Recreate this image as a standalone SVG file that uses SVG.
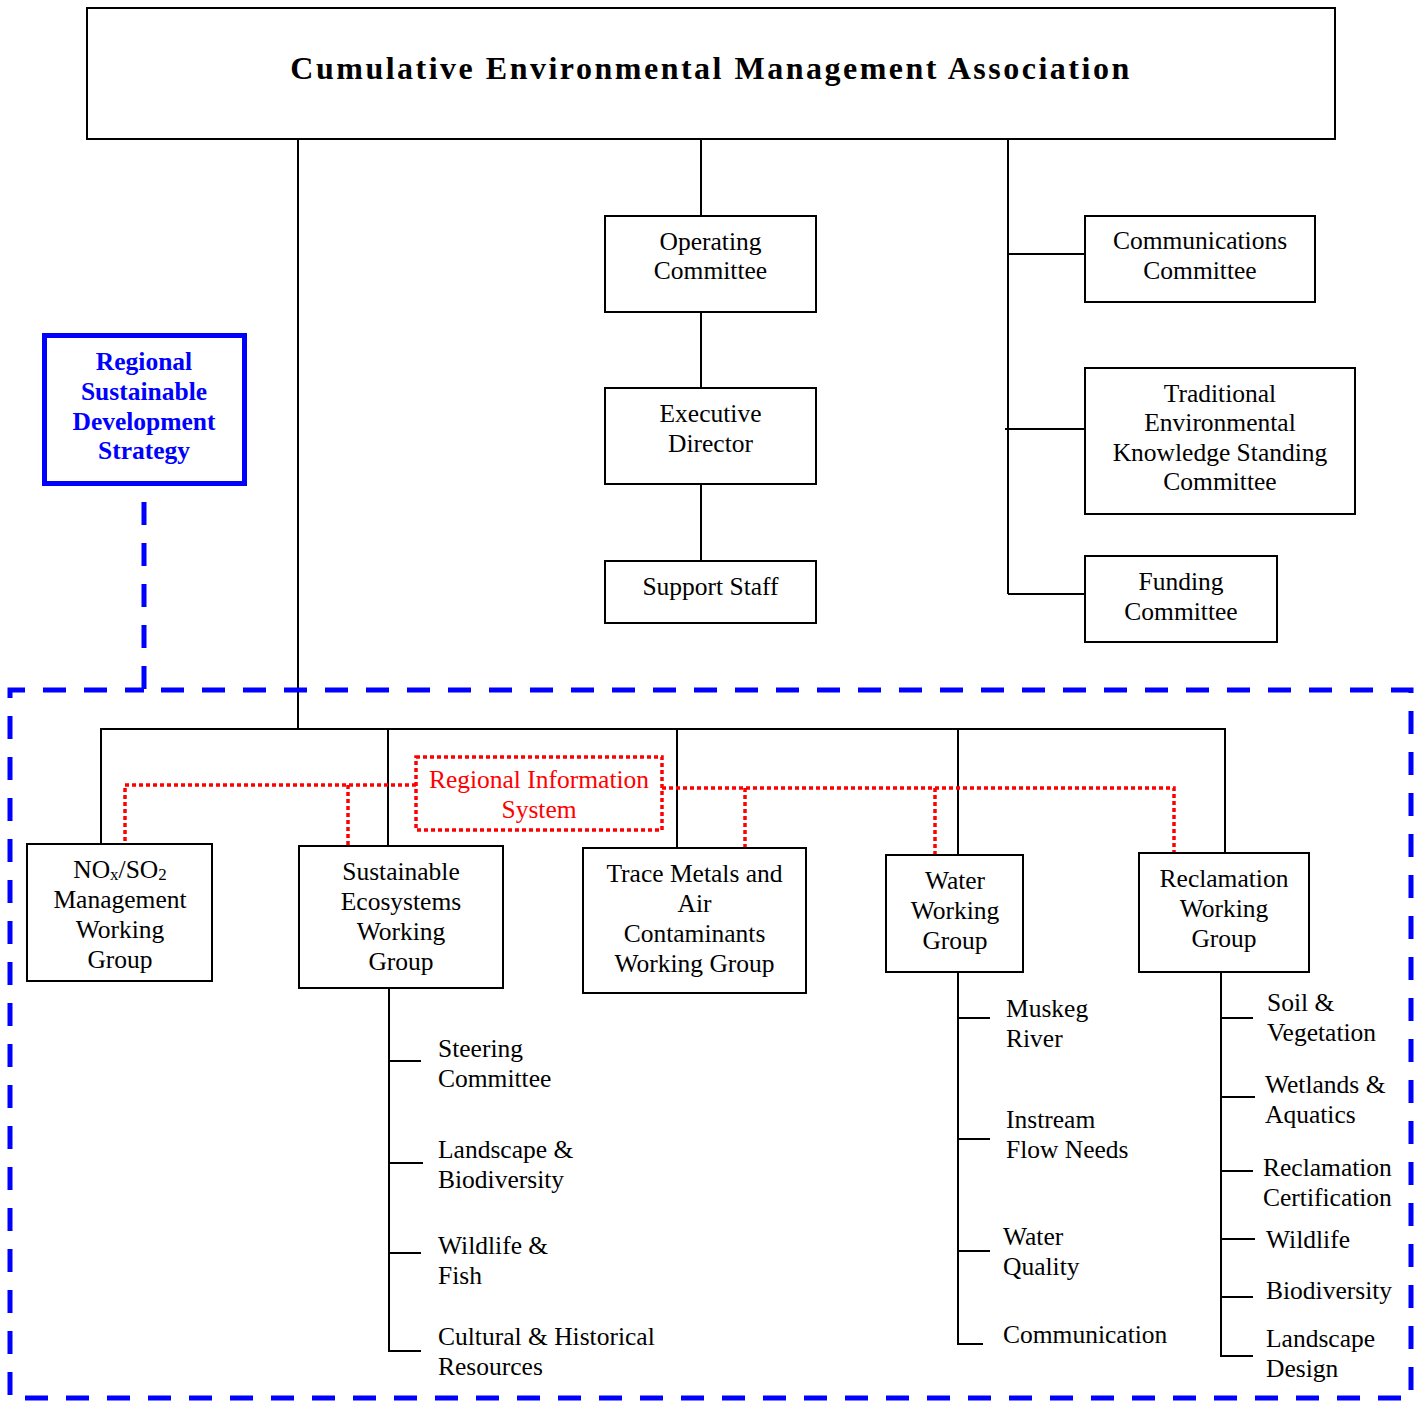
<svg xmlns="http://www.w3.org/2000/svg" width="1421" height="1401" viewBox="0 0 1421 1401">
<style>
  text { font-family: "Liberation Serif", "Times New Roman", serif; font-size: 25.5px; fill: #000; }
  .c { text-anchor: middle; }
  .title { font-size: 32px; font-weight: bold; letter-spacing: 2.5px; }
  .box { fill: #fff; stroke: #000; stroke-width: 2; }
  .ln { fill: none; stroke: #000; stroke-width: 2; }
  .blue { fill: none; stroke: #0000ff; stroke-width: 5; }
  .bdash { fill: none; stroke: #0000ff; stroke-width: 5; stroke-dasharray: 23 18; }
  .rdot { fill: none; stroke: #ff0000; stroke-width: 3.5; stroke-dasharray: 4 3; }
  .btxt { fill: #0000ff; font-weight: bold; }
  .rtxt { fill: #ff0000; }
  .sub { font-size: 17px; }
</style>

<g id="connectors">
  <path class="ln" d="M298,139 V729"/>
  <path class="ln" d="M701,139 V216 M701,312 V388 M701,484 V561"/>
  <path class="ln" d="M1008,139 V594 M1008,254 H1085 M1005,429 H1086 M1008,594 H1085"/>
  <path class="ln" d="M101,844 V729 H1225 V853 M388,729 V846 M677,729 V848 M958,729 V855"/>
  <path class="ln" d="M389,988 V1351 H421 M389,1061 H421 M389,1163 H423 M389,1253 H421"/>
  <path class="ln" d="M958,973 V1344 H983 M958,1018 H990 M958,1139 H990 M958,1251 H990"/>
  <path class="ln" d="M1221,973 V1356 H1253 M1221,1018 H1253 M1221,1097 H1255 M1221,1171 H1253 M1221,1239 H1255 M1221,1297 H1253"/>
  <path class="bdash" d="M144,502 V690 H1411 V1398 H10 V690 H144"/>
  <path class="rdot" d="M416,785 H125 V844 M348,785 V846"/>
  <path class="rdot" d="M662,788 H1174 V853 M745,788 V848 M935,788 V855"/>
</g>

<g id="cema">
  <rect class="box" x="87" y="8" width="1248" height="131"/>
  <text class="c title" x="711" y="79">Cumulative Environmental Management Association</text>
</g>

<g id="operating-committee">
  <rect class="box" x="605" y="216" width="211" height="96"/>
  <text class="c" x="710.5" y="250">Operating</text>
  <text class="c" x="710.5" y="279">Committee</text>
</g>

<g id="executive-director">
  <rect class="box" x="605" y="388" width="211" height="96"/>
  <text class="c" x="710.5" y="422">Executive</text>
  <text class="c" x="710.5" y="452">Director</text>
</g>

<g id="support-staff">
  <rect class="box" x="605" y="561" width="211" height="62"/>
  <text class="c" x="710.5" y="595">Support Staff</text>
</g>

<g id="communications-committee">
  <rect class="box" x="1085" y="216" width="230" height="86"/>
  <text class="c" x="1200" y="249">Communications</text>
  <text class="c" x="1200" y="279">Committee</text>
</g>

<g id="tek-committee">
  <rect class="box" x="1085" y="368" width="270" height="146"/>
  <text class="c" x="1220" y="402">Traditional</text>
  <text class="c" x="1220" y="431">Environmental</text>
  <text class="c" x="1220" y="461">Knowledge Standing</text>
  <text class="c" x="1220" y="490">Committee</text>
</g>

<g id="funding-committee">
  <rect class="box" x="1085" y="556" width="192" height="86"/>
  <text class="c" x="1181" y="590">Funding</text>
  <text class="c" x="1181" y="620">Committee</text>
</g>

<g id="rsds">
  <rect class="blue" x="44.5" y="335.5" width="200" height="148" fill="#fff"/>
  <text class="c btxt" x="144" y="370">Regional</text>
  <text class="c btxt" x="144" y="400">Sustainable</text>
  <text class="c btxt" x="144" y="430">Development</text>
  <text class="c btxt" x="144" y="459">Strategy</text>
</g>

<g id="regional-information-system">
  <rect class="rdot" x="416" y="757" width="246" height="73"/>
  <text class="c rtxt" x="539" y="788">Regional Information</text>
  <text class="c rtxt" x="539" y="818">System</text>
</g>

<g id="nox-so2-wg">
  <rect class="box" x="27" y="844" width="185" height="137"/>
  <text class="c" x="120" y="878">NO<tspan class="sub" dy="2">x</tspan><tspan dy="-2">/SO</tspan><tspan class="sub" dy="2">2</tspan></text>
  <text class="c" x="120" y="908">Management</text>
  <text class="c" x="120" y="938">Working</text>
  <text class="c" x="120" y="968">Group</text>
</g>

<g id="sustainable-ecosystems-wg">
  <rect class="box" x="299" y="846" width="204" height="142"/>
  <text class="c" x="401" y="880">Sustainable</text>
  <text class="c" x="401" y="910">Ecosystems</text>
  <text class="c" x="401" y="940">Working</text>
  <text class="c" x="401" y="970">Group</text>
</g>

<g id="trace-metals-wg">
  <rect class="box" x="583" y="848" width="223" height="145"/>
  <text class="c" x="694.5" y="882">Trace Metals and</text>
  <text class="c" x="694.5" y="912">Air</text>
  <text class="c" x="694.5" y="942">Contaminants</text>
  <text class="c" x="694.5" y="972">Working Group</text>
</g>

<g id="water-wg">
  <rect class="box" x="886" y="855" width="137" height="117"/>
  <text class="c" x="955" y="889">Water</text>
  <text class="c" x="955" y="919">Working</text>
  <text class="c" x="955" y="949">Group</text>
</g>

<g id="reclamation-wg">
  <rect class="box" x="1139" y="853" width="170" height="119"/>
  <text class="c" x="1224" y="887">Reclamation</text>
  <text class="c" x="1224" y="917">Working</text>
  <text class="c" x="1224" y="947">Group</text>
</g>

<g id="se-steering">
  <text x="438" y="1057">Steering</text>
  <text x="438" y="1087">Committee</text>
</g>
<g id="se-landscape">
  <text x="438" y="1158">Landscape &amp;</text>
  <text x="438" y="1188">Biodiversity</text>
</g>
<g id="se-wildlife">
  <text x="438" y="1254">Wildlife &amp;</text>
  <text x="438" y="1284">Fish</text>
</g>
<g id="se-cultural">
  <text x="438" y="1345">Cultural &amp; Historical</text>
  <text x="438" y="1375">Resources</text>
</g>

<g id="water-muskeg">
  <text x="1006" y="1017">Muskeg</text>
  <text x="1006" y="1047">River</text>
</g>
<g id="water-instream">
  <text x="1006" y="1128">Instream</text>
  <text x="1006" y="1158">Flow Needs</text>
</g>
<g id="water-quality">
  <text x="1003" y="1245">Water</text>
  <text x="1003" y="1275">Quality</text>
</g>
<g id="water-communication">
  <text x="1003" y="1343">Communication</text>
</g>

<g id="rec-soil">
  <text x="1267" y="1011">Soil &amp;</text>
  <text x="1267" y="1041">Vegetation</text>
</g>
<g id="rec-wetlands">
  <text x="1265" y="1093">Wetlands &amp;</text>
  <text x="1265" y="1123">Aquatics</text>
</g>
<g id="rec-certification">
  <text x="1263" y="1176">Reclamation</text>
  <text x="1263" y="1206">Certification</text>
</g>
<g id="rec-wildlife">
  <text x="1266" y="1248">Wildlife</text>
</g>
<g id="rec-biodiversity">
  <text x="1266" y="1299">Biodiversity</text>
</g>
<g id="rec-landscape">
  <text x="1266" y="1347">Landscape</text>
  <text x="1266" y="1377">Design</text>
</g>
</svg>
